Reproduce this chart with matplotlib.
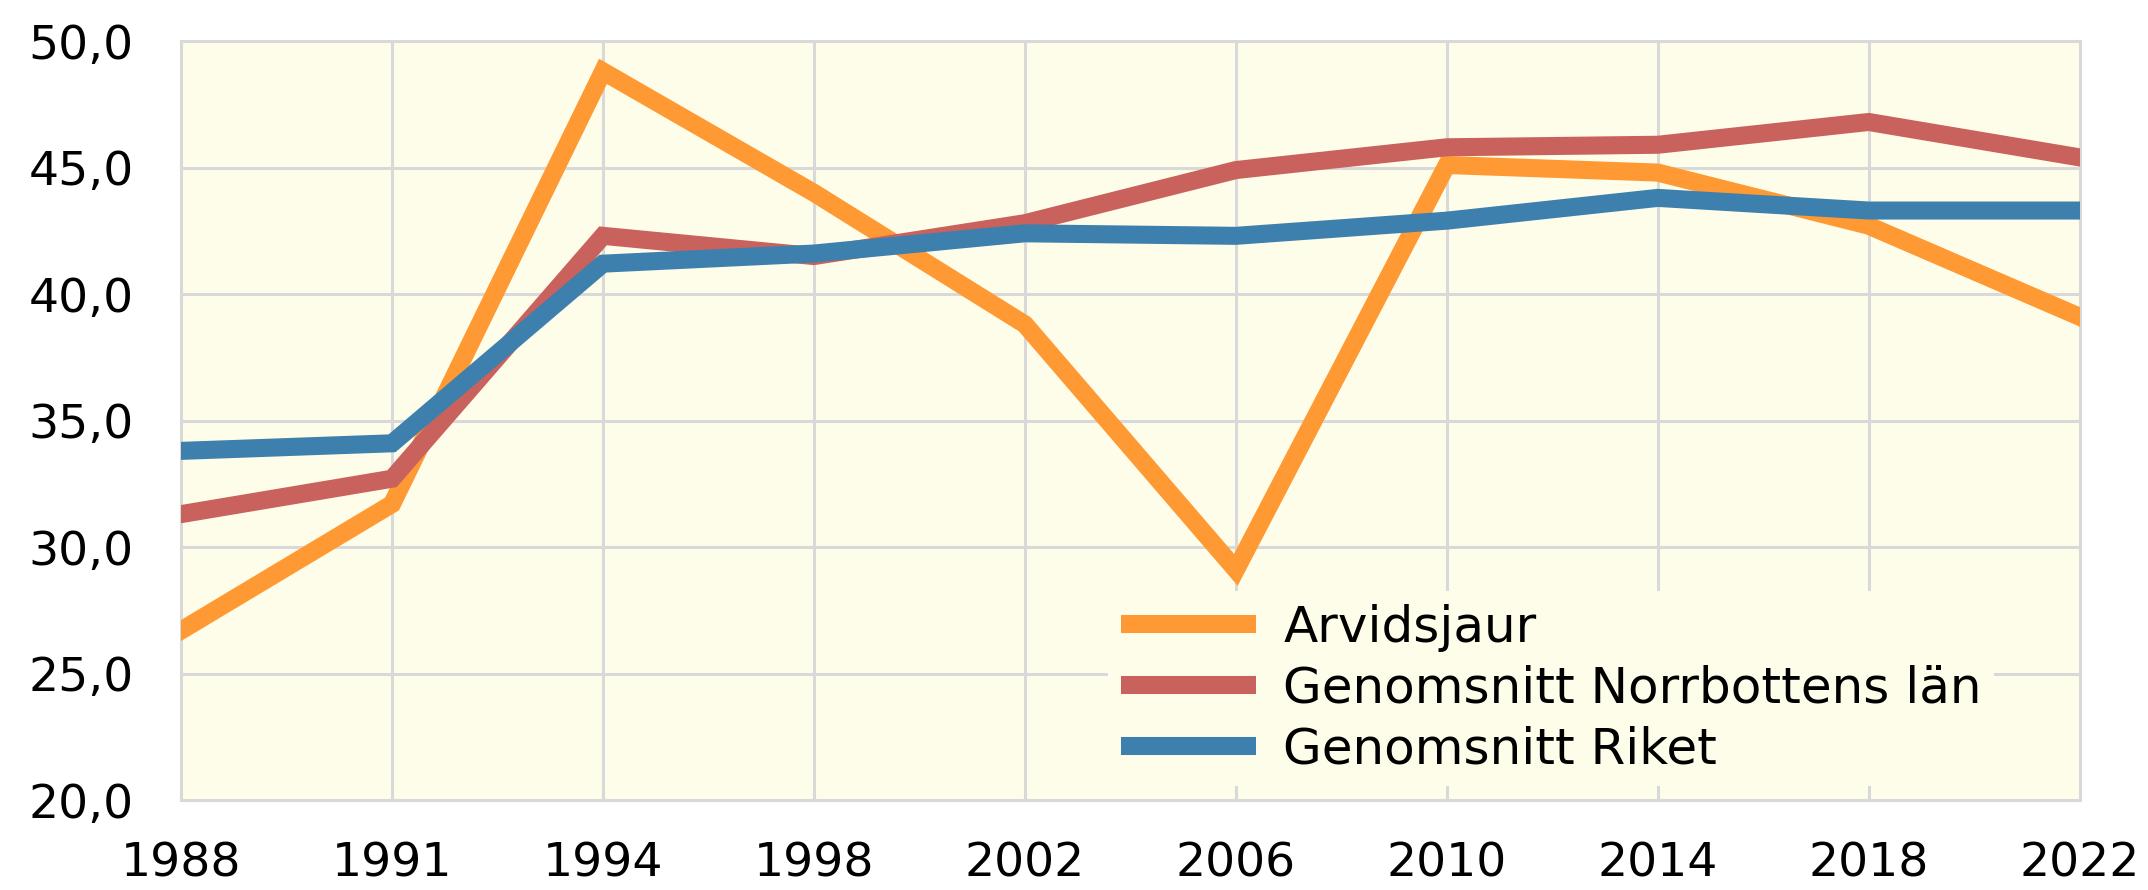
import matplotlib.pyplot as plt
from matplotlib.ticker import FuncFormatter

years = ['1988', '1991', '1994', '1998', '2002', '2006', '2010', '2014', '2018', '2022']
arvidsjaur = [26.7, 31.7, 48.8, 44.0, 38.8, 29.1, 45.1, 44.8, 42.7, 39.1]
norrbotten = [31.3, 32.7, 42.3, 41.5, 42.8, 44.9, 45.8, 45.9, 46.8, 45.4]
riket = [33.8, 34.1, 41.2, 41.6, 42.4, 42.3, 42.9, 43.8, 43.3, 43.3]

labels = ['Arvidsjaur', 'Genomsnitt Norrbottens län', 'Genomsnitt Riket']
colors = ['#FF9933', '#C9625C', '#3D80AD']

plt.rcParams['font.family'] = ['DejaVu Sans']

fig = plt.figure(figsize=(21.48, 8.9), dpi=100)
ax = fig.add_axes([0.0843, 0.1011, 0.8839, 0.8528])
ax.set_facecolor('#FEFDEA')

x = list(range(len(years)))
for serie, lab, col in zip([arvidsjaur, norrbotten, riket], labels, colors):
    ax.plot(x, serie, color=col, linewidth=13, label=lab, solid_joinstyle='miter', zorder=3)

ax.set_xlim(0, len(years) - 1)
ax.set_ylim(20, 50)
ax.set_yticks([20, 25, 30, 35, 40, 45, 50])
ax.yaxis.set_major_formatter(FuncFormatter(lambda v, p: f'{v:.1f}'.replace('.', ',')))
ax.set_xticks(x)
ax.set_xticklabels(years)

ax.grid(True, color='#D9D9D9', linewidth=2.2, zorder=1)
ax.set_axisbelow(True)
for s in ax.spines.values():
    s.set_color('#D9D9D9')
    s.set_linewidth(2.2)
ax.tick_params(length=0, labelsize=34, colors='black')
ax.tick_params(axis='x', pad=30)
ax.tick_params(axis='y', pad=34)

leg = ax.legend(loc='lower right', bbox_to_anchor=(0.955, 0.018), fontsize=36,
                frameon=True, facecolor='#FEFDEA', edgecolor='none', framealpha=1,
                handlelength=2.7, handletextpad=0.55, labelspacing=0.26,
                borderpad=0.25, borderaxespad=0)
leg.set_zorder(5)
for line in leg.get_lines():
    line.set_linewidth(13)
    line.set_solid_capstyle('butt')

fig.savefig('out.png', dpi=100)
